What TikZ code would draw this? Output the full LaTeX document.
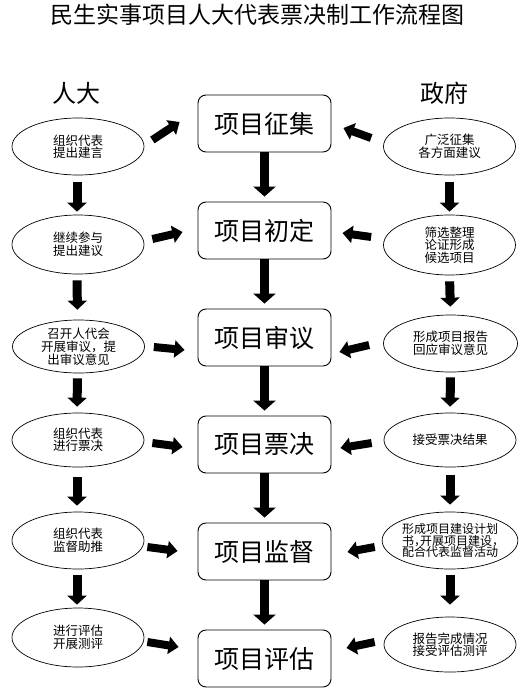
\documentclass[tikz,border=0pt]{standalone}
\usepackage{fontspec}
\newfontfamily\cjk{Noto Sans CJK SC}
\usetikzlibrary{arrows.meta,shapes.geometric}
\newcommand\hc{\makebox[0.5em][l]{，}}
\begin{document}
\begin{tikzpicture}[x=1pt,y=-1pt,
  box/.style={draw, rounded corners=8pt, minimum width=133pt, minimum height=57pt,
    inner sep=0pt, line width=0.9pt, font=\cjk\fontsize{25}{25}\selectfont},
  oval/.style={draw, ellipse, minimum width=132pt, minimum height=56pt, inner sep=0pt,
    align=center, line width=0.7pt, font=\cjk\fontsize{12.5}{12.5}\selectfont},
  oval3/.style={oval, font=\cjk\fontsize{12.5}{11}\selectfont},
  head/.style={font=\cjk\fontsize{24}{24}\selectfont},
  fat/.style={line width=9pt, -{Triangle[width=22pt,length=10pt]}},
  down/.style={line width=9pt, -{Triangle[width=19pt,length=9pt]}},
  side/.style={line width=8pt, -{Triangle[width=17pt,length=10pt]}}]
\useasboundingbox (0,0) rectangle (527,693);

\node[font=\cjk\fontsize{23}{23}\selectfont] (title) at (257.5,15) {民生实事项目人大代表票决制工作流程图};
\node[head] (rd) at (76,93) {人大};
\node[head] (zf) at (444,93) {政府};

% central boxes
\node[box] (b1) at (264.5,123.5) {项目征集};
\node[box] (b2) at (264.5,230.5) {项目初定};
\node[box] (b3) at (264.5,337.5) {项目审议};
\node[box] (b4) at (264.5,444.5) {项目票决};
\node[box] (b5) at (264.5,551.5) {项目监督};
\node[box] (b6) at (264.5,658.5) {项目评估};

% left ellipses
\node[oval, minimum height=57pt] (l1) at (78,146.5) {组织代表\\提出建言};
\node[oval, minimum height=59pt] (l2) at (78,244.5) {继续参与\\提出建议};
\node[oval3, minimum height=53pt] (l3) at (78.5,346.5) {召开人代会\\开展审议，提\\出审议意见};
\node[oval, minimum height=54pt] (l4) at (78,440) {组织代表\\进行票决};
\node[oval, minimum height=57pt] (l5) at (78,540.5) {组织代表\\监督助推};
\node[oval, minimum height=59pt] (l6) at (78,637.5) {进行评估\\开展测评};

% right ellipses
\node[oval, minimum height=57pt] (r1) at (449.5,146.5) {广泛征集\\各方面建议};
\node[oval3, minimum height=60pt] (r2) at (449.5,245) {筛选整理\\论证形成\\候选项目};
\node[oval, minimum height=57pt, minimum width=134pt] (r3) at (450.5,343.5) {形成项目报告\\回应审议意见};
\node[oval, minimum height=54pt] (r4) at (450,440) {接受票决结果};
\node[oval3, minimum height=57pt, minimum width=134pt, font=\cjk\fontsize{12}{11.5}\selectfont] (r5) at (450,540.5) {形成项目建设计划\\书\hc 开展项目建设\hc\\配合代表监督活动};
\node[oval, minimum height=55pt] (r6) at (450,644.5) {报告完成情况\\接受评估测评};

% central arrows
\foreach \a/\b in {b1/b2,b2/b3,b3/b4,b4/b5,b5/b6}
  \draw[fat, shorten >=5pt] (\a.south) -- (\b.north);

% left vertical arrows
\draw[down, shorten <=7pt, shorten >=3pt] ([xshift=-1pt]l1.south) -- ([xshift=-1pt]l2.north);
\draw[down, shorten <=6pt, shorten >=10pt] ([xshift=-1pt]l2.south) -- ([xshift=-1pt]l3.north);
\draw[down, shorten <=5pt, shorten >=6pt] ([xshift=-1pt]l3.south) -- ([xshift=-1pt]l4.north);
\draw[down, shorten <=10pt, shorten >=6pt] ([xshift=-1pt]l4.south) -- ([xshift=-1pt]l5.north);
\draw[down, shorten <=6pt, shorten >=3pt] ([xshift=-1pt]l5.south) -- ([xshift=-1pt]l6.north);

% right vertical arrows
\draw[down, shorten <=7pt, shorten >=3pt] (r1.south) -- (r2.north);
\draw[down, shorten <=6pt, shorten >=8pt] (r2.south) -- (r3.north);
\draw[down, shorten <=5pt, shorten >=6pt] (r3.south) -- (r4.north);
\draw[down, shorten <=8pt, shorten >=7pt] (r4.south) -- (r5.north);
\draw[down, shorten <=6pt, shorten >=12pt] (r5.south) -- (r6.north);

% left side arrows
\draw[side] ([shift={(8,-6.5)}]l1.east) -- ([shift={(-18,-1.5)}]b1.west);
\draw[side] ([shift={(8,-5.5)}]l2.east) -- ([shift={(-15,1.5)}]b2.west);
\draw[side] ([shift={(9,0.5)}]l3.east) -- ([shift={(-13,12.5)}]b3.west);
\draw[side] ([shift={(8,3)}]l4.east) -- ([shift={(-15,2.5)}]b4.west);
\draw[side] ([shift={(3,6.5)}]l5.east) -- ([shift={(-20,-0.5)}]b5.west);
\draw[side] ([shift={(3,4.5)}]l6.east) -- ([shift={(-19,-11.5)}]b6.west);

% right side arrows
\draw[side] ([shift={(-12,-8.5)}]r1.west) -- ([shift={(12,4.5)}]b1.east);
\draw[side] ([shift={(-12,-8)}]r2.west) -- ([shift={(11,2.5)}]b2.east);
\draw[side] ([shift={(-14,1.5)}]r3.west) -- ([shift={(8,14.5)}]b3.east);
\draw[side] ([shift={(-12,3)}]r4.west) -- ([shift={(9,3.5)}]b4.east);
\draw[side] ([shift={(-7,6.5)}]r5.west) -- ([shift={(16,0.5)}]b5.east);
\draw[side] ([shift={(-9,-2.5)}]r6.west) -- ([shift={(15,-10.5)}]b6.east);
\end{tikzpicture}
\end{document}
